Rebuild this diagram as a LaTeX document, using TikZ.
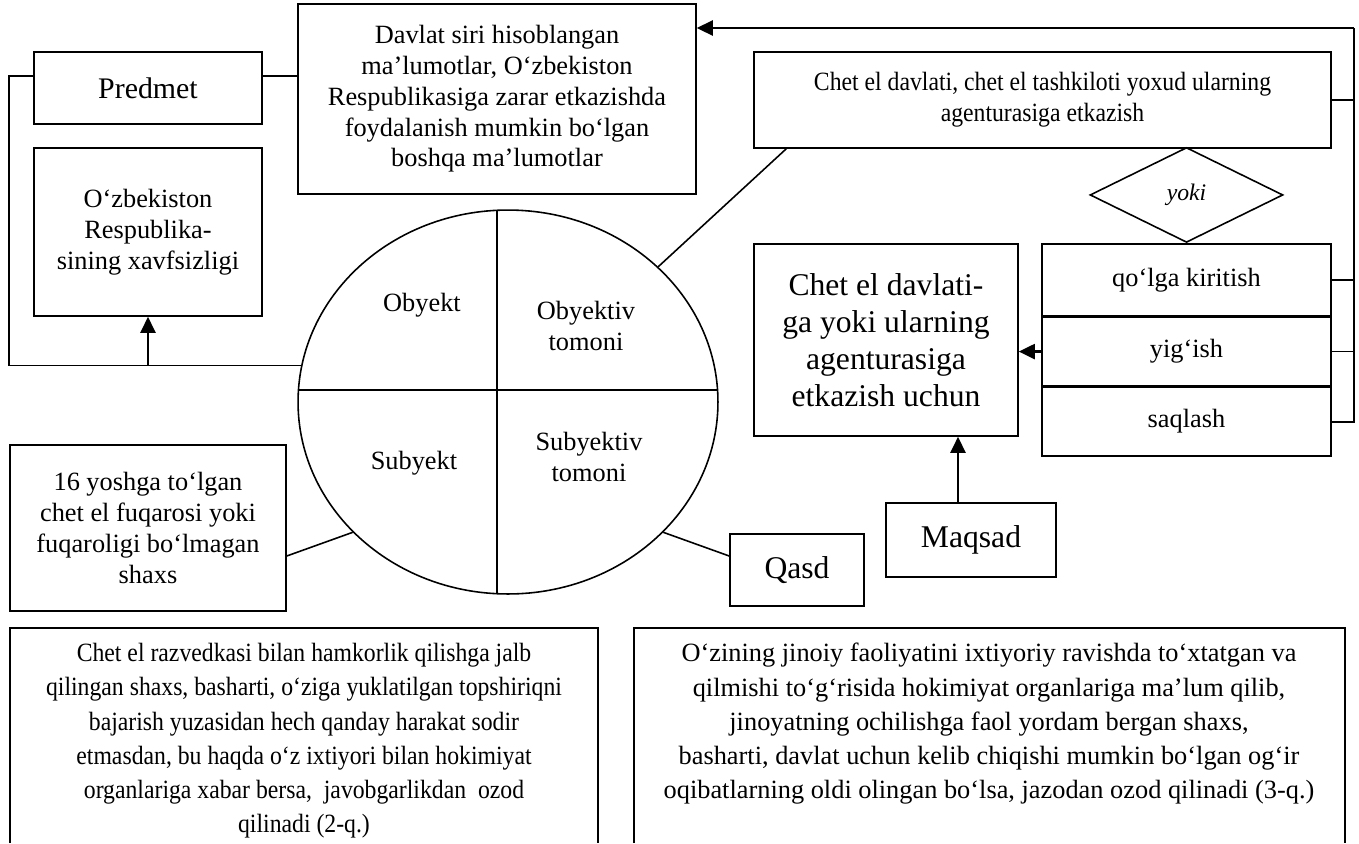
\documentclass[tikz,border=0pt]{standalone}
\usepackage{fontspec}
\setmainfont{Liberation Serif}
\newfontfamily\narrowfont[FakeStretch=0.9]{Liberation Serif}
\usetikzlibrary{shapes.geometric,arrows.meta,positioning}

\begin{document}
\begin{tikzpicture}[x=0.02cm, y=-0.02cm, node distance=0pt,
  >={Triangle[length=3.2mm,width=3mm]},
  box/.style={draw, line width=0.9pt, align=center, inner sep=2pt,
              font=\fontsize{15}{17.5}\selectfont},
  bigbox/.style={box, font=\fontsize{18}{21}\selectfont},
  link/.style={line width=0.9pt},
  arrow/.style={->, line width=1.3pt}]

  \useasboundingbox (0,0) rectangle (1359,843);

  %--- Left column
  \node[box, font=\fontsize{17}{20}\selectfont,
        minimum width=4.56cm, minimum height=1.44cm] (P) at (148,88) {Predmet};
  \node[box, minimum width=4.56cm, minimum height=3.36cm] (O) at (148,232)
    {O‘zbekiston\\ Respublika-\\ sining xavfsizligi};
  \node[box, minimum width=7.96cm, minimum height=3.8cm] (D) at (497,99)
    {Davlat siri hisoblangan\\ ma’lumotlar, O‘zbekiston\\ Respublikasiga zarar etkazishda\\
     foydalanish mumkin bo‘lgan\\ boshqa ma’lumotlar};
  \node[box, minimum width=5.52cm, minimum height=3.32cm] (S) at (148,528)
    {16 yoshga to‘lgan\\ chet el fuqarosi yoki\\ fuqaroligi bo‘lmagan\\ shaxs};

  %--- Element ellipse with four quadrants
  \node[ellipse, draw, line width=0.9pt, minimum width=8.4cm,
        minimum height=7.68cm, inner sep=0] (E) at (508,402) {};
  \begin{scope}
    \clip (508,402) ellipse [x radius=4.2cm, y radius=3.84cm];
    \draw[link] (497,150) -- (497,650);
    \draw[link] (250,390) -- (760,390);
  \end{scope}
  \node[font=\fontsize{15}{17.5}\selectfont] (ob) at (422,305) {Obyekt};
  \node[font=\fontsize{15}{17.5}\selectfont, align=center] (obt) at (586,326) {Obyektiv\\ tomoni};
  \node[font=\fontsize{15}{17.5}\selectfont] (sb) at (414,463) {Subyekt};
  \node[font=\fontsize{15}{17.5}\selectfont, align=center] (sbt) at (589,457) {Subyektiv\\ tomoni};

  %--- Right part
  \node[box, font=\narrowfont\fontsize{15}{17.5}\selectfont,
        minimum width=11.54cm, minimum height=1.92cm] (C) at (1042.5,100)
    {Chet el davlati, chet el tashkiloti yoxud ularning\\ agenturasiga etkazish};
  \node[box, minimum width=5.78cm, minimum height=1.44cm] (q1) at (1186.5,280) {qo‘lga kiritish};
  \node[box, minimum width=5.78cm, minimum height=1.36cm, below=of q1] (q2) {yig‘ish};
  \node[box, minimum width=5.78cm, minimum height=1.38cm, below=of q2] (q3) {saqlash};
  \node[diamond, draw, line width=0.9pt, minimum width=3.86cm, minimum height=1.9cm,
        inner sep=0, font=\itshape\fontsize{13.5}{16}\selectfont, above=of q1] (yoki) {yoki};
  \node[bigbox, minimum width=5.28cm, minimum height=3.84cm] (CD) at (886,340)
    {Chet el davlati-\\ ga yoki ularning\\ agenturasiga\\ etkazish uchun};
  \node[bigbox, minimum width=3.4cm, minimum height=1.48cm] (M) at (971,540) {Maqsad};
  \node[bigbox, minimum width=2.68cm, minimum height=1.44cm] (Q) at (797,570) {Qasd};

  %--- Connectors
  \draw[link] ([yshift=.24cm]P.west) -- ++(-24,0) |- (E.170);
  \draw[arrow] (O.south |- E.170) -- (O.south);
  \draw[link] ([yshift=.24cm]P.east) -- ([yshift=.24cm]P.east -| D.west);
  \draw[link] (E.42) -- ([xshift=.66cm]C.south west);
  \draw[link] (E.220) -- ([yshift=-.56cm]S.east);
  \draw[link] (E.320) -- ([yshift=.28cm]Q.west);

  \coordinate (rail) at (1354,28);
  \draw[link, line width=1.1pt] (rail) |- (q3.east);
  \draw[link] (C.east) -- (C.east -| rail);
  \draw[link] (q1.east) -- (q1.east -| rail);
  \draw[link] (q2.east) -- (q2.east -| rail);
  \draw[arrow] (rail) -- (rail -| D.east);
  \draw[arrow] (q2.west) -- (q2.west -| CD.east);
  \draw[arrow] ([xshift=-.26cm]M.north) -- ([xshift=-.26cm]M.north |- CD.south);

  %--- Bottom notes
  \draw[link] (10,843) |- (598,628) -- (598,843);
  \node[anchor=north, align=center, inner sep=0,
        font=\narrowfont\fontsize{15}{19.5}\selectfont] (n2) at (304,643)
    {Chet el razvedkasi bilan hamkorlik qilishga jalb\\
     qilingan shaxs, basharti, o‘ziga yuklatilgan topshiriqni\\
     bajarish yuzasidan hech qanday harakat sodir\\
     etmasdan, bu haqda o‘z ixtiyori bilan hokimiyat\\
     organlariga xabar bersa, \ javobgarlikdan \ ozod\\
     qilinadi (2-q.)};
  \draw[link] (634,843) |- (1345,628) -- (1345,843);
  \node[anchor=north, align=center, inner sep=0,
        font=\fontsize{15}{19.5}\selectfont] (n3) at (989,643)
    {O‘zining jinoiy faoliyatini ixtiyoriy ravishda to‘xtatgan va\\
     qilmishi to‘g‘risida hokimiyat organlariga ma’lum qilib,\\
     jinoyatning ochilishga faol yordam bergan shaxs,\\
     basharti, davlat uchun kelib chiqishi mumkin bo‘lgan og‘ir\\
     oqibatlarning oldi olingan bo‘lsa, jazodan ozod qilinadi (3-q.)};

\end{tikzpicture}
\end{document}
